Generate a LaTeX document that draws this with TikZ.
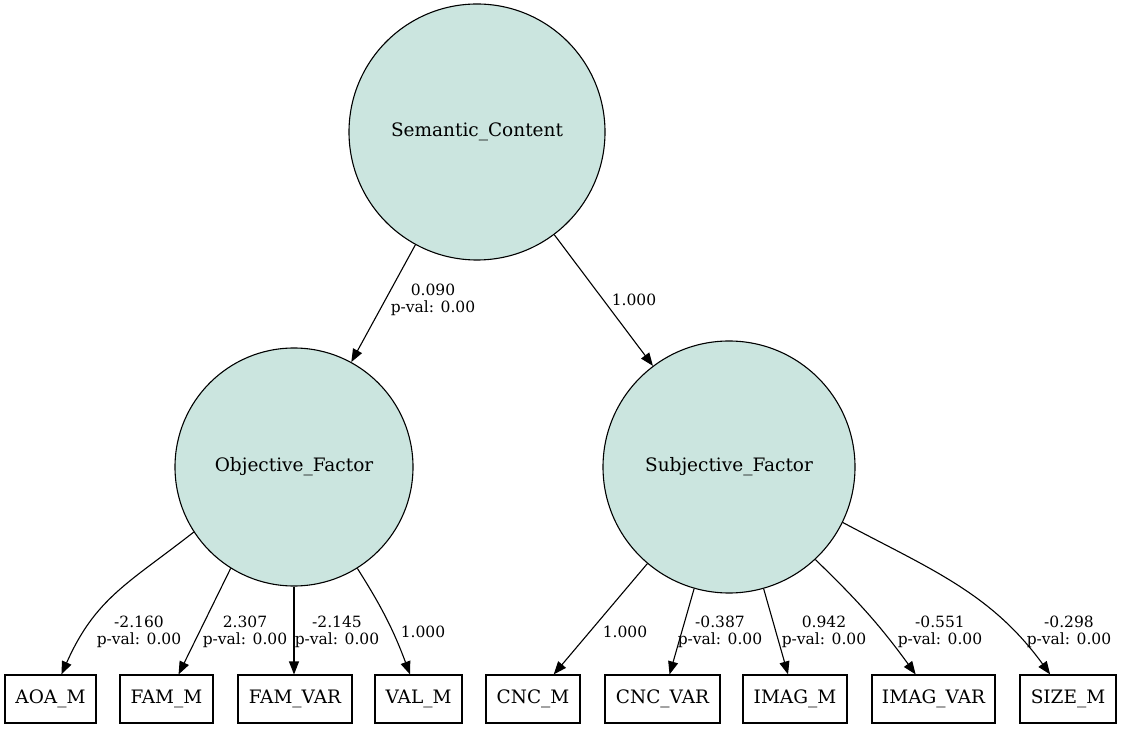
\documentclass[tikz,border=0pt]{standalone}
\usepackage{fontspec}
\setmainfont{DejaVu Serif}
\usepackage{tikz}
\usetikzlibrary{shapes,arrows.meta,positioning}
\definecolor{latentfill}{RGB}{203,229,223}

\begin{document}
\begin{tikzpicture}[x=1pt, y=1pt, line width=1.1pt,
    >={Triangle[length=13pt,width=10pt]},
    latent/.style={circle, draw, fill=latentfill, inner sep=0pt, font=\fontsize{18.5}{22}\selectfont},
    observed/.style={rectangle, draw, minimum height=48pt, inner xsep=2pt, font=\fontsize{18.5}{22}\selectfont},
    weight/.style={align=center, inner sep=0pt, font=\fontsize{15.5}{17}\selectfont}]
    \useasboundingbox (0,0) rectangle (1123,728);

    % Latent variables
    \node[latent, minimum size=256pt] (semantic) at (477,596) {Semantic\_Content};
    \node[latent, minimum size=238pt] (objective) at (294,261) {Objective\_Factor};
    \node[latent, minimum size=252pt] (subjective) at (729,261) {Subjective\_Factor};

    % Observed variables
    \node[observed, minimum width=91pt] (aoa) at (50.5,29) {AOA\_M};
    \node[observed, minimum width=93pt] (fam) at (166.5,29) {FAM\_M};
    \node[observed, minimum width=114pt] (famvar) at (295,29) {FAM\_VAR};
    \node[observed, minimum width=87pt] (val) at (418.5,29) {VAL\_M};
    \node[observed, minimum width=94pt] (cnc) at (533,29) {CNC\_M};
    \node[observed, minimum width=115pt] (cncvar) at (662.5,29) {CNC\_VAR};
    \node[observed, minimum width=104pt] (imag) at (795,29) {IMAG\_M};
    \node[observed, minimum width=123pt] (imagvar) at (933.5,29) {IMAG\_VAR};
    \node[observed, minimum width=96pt] (size) at (1068,29) {SIZE\_M};

    % Arrows
    \draw[->] (semantic) -- (objective);
    \draw[->] (semantic) -- (subjective);
    \draw[->] (objective.213) to[out=218, in=66, looseness=1.1] (aoa);
    \draw[->] (objective.238) -- (fam);
    \draw[->] (objective) -- (objective |- famvar.north);
    \draw[->] (objective.302) to[bend left=6] (val);
    \draw[->] (subjective) -- (cnc);
    \draw[->] (subjective) -- (cncvar);
    \draw[->] (subjective) -- (imag);
    \draw[->] (subjective.-47) to[out=-44, in=126] (imagvar);
    \draw[->] (subjective.-26) to[out=-28, in=126] (size);

    % Estimates
    \node[weight] (w_obj) at (433,428) {0.090\\p-val: 0.00};
    \node[weight] (w_subj) at (634,428) {1.000};
    \node[weight] (w_aoa) at (139,96) {-2.160\\p-val: 0.00};
    \node[weight] (w_fam) at (245,96) {2.307\\p-val: 0.00};
    \node[weight] (w_famvar) at (337,96) {-2.145\\p-val: 0.00};
    \node[weight] (w_val) at (423,96) {1.000};
    \node[weight] (w_cnc) at (625,96) {1.000};
    \node[weight] (w_cncvar) at (720,96) {-0.387\\p-val: 0.00};
    \node[weight] (w_imag) at (824,96) {0.942\\p-val: 0.00};
    \node[weight] (w_imagvar) at (940,96) {-0.551\\p-val: 0.00};
    \node[weight] (w_size) at (1069,96) {-0.298\\p-val: 0.00};
\end{tikzpicture}
\end{document}
